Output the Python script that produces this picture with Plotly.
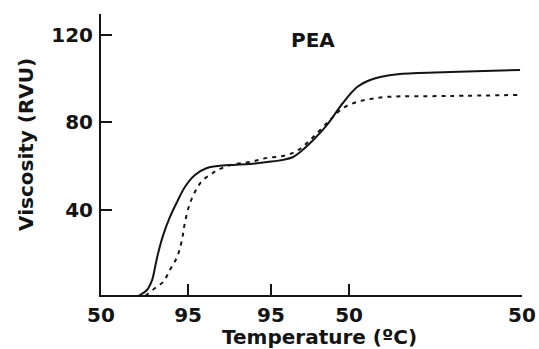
import plotly.graph_objects as go

# Time axis (min) with temperature-profile tick labels
tick_times = [0, 2.69, 5.25, 7.66, 13.0]
tick_labels = ["50", "95", "95", "50", "50"]
y_ticks = [40, 80, 120]

# Solid curve
solid_t = [0, 1.05, 1.20, 1.42, 1.58, 1.67, 1.76, 1.92, 2.13, 2.35, 2.59, 2.90, 3.27, 3.61,
           4.08, 4.60, 5.13, 5.62, 5.93, 6.15, 6.46, 6.98, 7.47, 7.91, 8.31, 8.62, 9.23,
           10.78, 12.94]
solid_v = [0, 0, 1.1, 3.4, 8.0, 13.9, 20.0, 28.5, 36.8, 43.7, 50.5, 56.0, 59.2, 60.1,
           60.6, 61.0, 61.9, 62.9, 64.2, 66.5, 70.6, 78.9, 88.9, 96.2, 99.4, 100.8, 102.2,
           103.1, 104.0]

# Dashed curve
dash_t = [0, 1.25, 1.40, 1.67, 1.92, 2.13, 2.35, 2.50, 2.59, 2.75, 2.97, 3.15, 3.37, 3.61,
          4.08, 4.60, 5.13, 5.62, 6.05, 6.46, 7.07, 7.47, 7.91, 8.31, 8.83, 10.78, 12.94]
dash_v = [0, 0, 1.1, 4.3, 7.1, 12.6, 18.5, 26.3, 34.1, 43.2, 50.1, 53.7, 56.0, 58.3,
          60.8, 61.9, 63.8, 64.7, 67.0, 72.0, 81.1, 86.6, 89.4, 90.7, 91.7, 92.1, 92.6]

FONT = "DejaVu Sans"
INK = "#141414"

fig = go.Figure()
fig.add_trace(go.Scatter(x=solid_t, y=solid_v, mode="lines", line_shape="spline",
                         line=dict(color=INK, width=2), showlegend=False))
fig.add_trace(go.Scatter(x=dash_t, y=dash_v, mode="lines", line_shape="spline",
                         line=dict(color=INK, width=2, dash="4px,5px"), showlegend=False))

W, H = 539, 349
l, r, t, b = 101, 17, 14, 54

fig.update_layout(
    width=W, height=H,
    margin=dict(l=l, r=r, t=t, b=b, autoexpand=False),
    paper_bgcolor="white", plot_bgcolor="white",
    font=dict(family=FONT, size=20, color=INK, weight="bold"),
    xaxis=dict(range=[0, 13.0], tickmode="array", tickvals=tick_times, ticktext=tick_labels,
               showline=True, linecolor=INK, linewidth=2, ticks="inside", ticklen=11,
               tickwidth=2, tickcolor=INK, showgrid=False, zeroline=False,
               ticklabelstandoff=1,
               tickfont=dict(family=FONT, size=20, color=INK, weight="bold")),
    yaxis=dict(range=[1.1, 129.6], tickmode="array", tickvals=y_ticks,
               showline=True, linecolor=INK, linewidth=2, ticks="inside", ticklen=11,
               tickwidth=2, tickcolor=INK, showgrid=False, zeroline=False,
               ticklabelstandoff=2,
               tickfont=dict(family=FONT, size=20, color=INK, weight="bold")),
)

pw, ph = W - l - r, H - t - b
def px(xp, yp):
    return (xp - l) / pw, (H - b - yp) / ph

for text, (xp, yp), ang in [("PEA", (313, 40), 0),
                            ("Temperature (ºC)", (319, 337), 0),
                            ("Viscosity (RVU)", (26, 145), -90)]:
    ax, ay = px(xp, yp)
    fig.add_annotation(text=text, x=ax, y=ay, xref="paper", yref="paper",
                       xanchor="center", yanchor="middle", showarrow=False,
                       textangle=ang,
                       font=dict(family=FONT, size=20, color=INK, weight="bold"))

fig.write_html("out.html", config={"displayModeBar": False},
               post_script="document.body.style.margin='0';")
